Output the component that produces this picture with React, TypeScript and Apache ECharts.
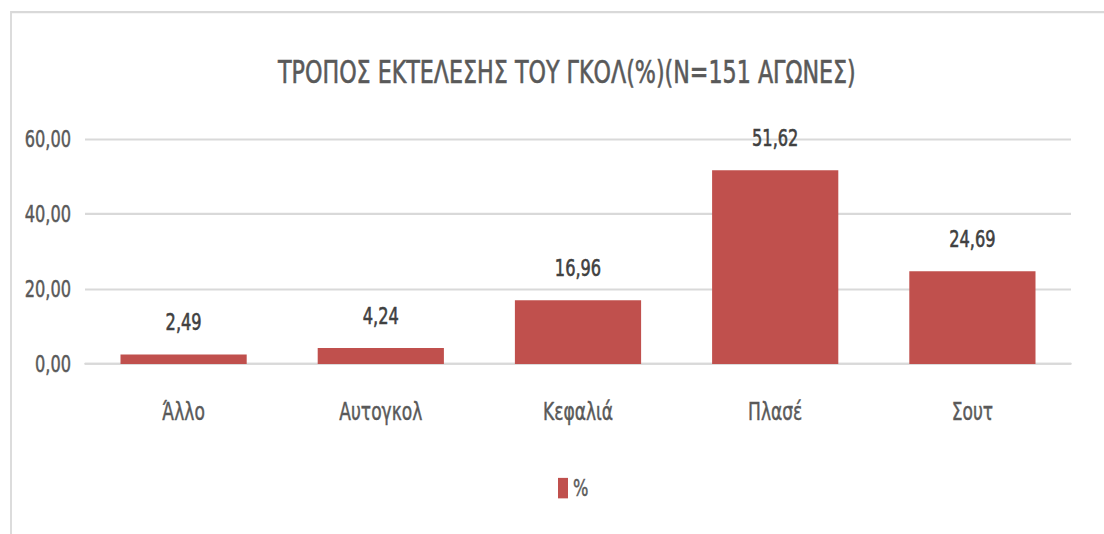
import React, { useEffect, useRef } from "react";
import * as echarts from "echarts";

const categories = ["Άλλο", "Αυτογκολ", "Κεφαλιά", "Πλασέ", "Σουτ"];
const values = [2.49, 4.24, 16.96, 51.62, 24.69];
const seriesName = "%";
const titleText = "ΤΡΟΠΟΣ ΕΚΤΕΛΕΣΗΣ ΤΟΥ ΓΚΟΛ(%)(N=151 ΑΓΩΝΕΣ)";

const FONT = "'Liberation Sans Narrow', 'DejaVu Sans Condensed', 'Open Sans', sans-serif";
const fmt = (v: number) => v.toFixed(2).replace(".", ",");

// The reference uses a tall, narrow lettering: the chart is drawn at a lower
// height and stretched vertically to the full 534px.
const W = 1104;
const H = 417;
const S = 534 / H;

const GREY = "#595959";
const DARK = "#404040";

export default function App() {
  const ref = useRef<HTMLDivElement>(null);
  useEffect(() => {
    if (!ref.current) return;
    const chart = echarts.init(ref.current, undefined, { renderer: "svg" });
    chart.setOption({
      animation: false,
      backgroundColor: "#ffffff",
      textStyle: { fontFamily: FONT },
      title: {
        text: titleText,
        left: 273,
        top: 39,
        textStyle: {
          fontFamily: FONT,
          fontSize: 24.7,
          fontWeight: "normal",
          color: GREY,
          textBorderColor: GREY,
          textBorderWidth: 0.45,
        },
      },
      graphic: [
        {
          type: "rect",
          shape: { x: 11, y: 9.4, width: 1100, height: 420 },
          style: { fill: "none", stroke: "#D9D9D9", lineWidth: 1.8 },
          silent: true,
        },
      ],
      legend: {
        data: [seriesName],
        left: 553,
        top: 367,
        itemWidth: 10,
        itemHeight: 16,
        itemGap: 6,
        icon: "rect",
        textStyle: {
          fontFamily: FONT,
          fontSize: 18,
          color: GREY,
          textBorderColor: GREY,
          textBorderWidth: 0.35,
        },
      },
      grid: { left: 85, right: 33, top: 108.5, bottom: 132.8, containLabel: false },
      xAxis: {
        type: "category",
        data: categories,
        axisLine: { show: true, lineStyle: { color: "#D9D9D9", width: 1.6 } },
        axisTick: { show: false },
        axisLabel: {
          fontFamily: FONT,
          fontSize: 19,
          color: GREY,
          margin: 28,
          textBorderColor: GREY,
          textBorderWidth: 0.35,
        },
      },
      yAxis: {
        type: "value",
        min: 0,
        max: 60,
        interval: 20,
        axisLine: { show: false },
        axisTick: { show: false },
        splitLine: { lineStyle: { color: "#D9D9D9", width: 1.6 } },
        axisLabel: {
          fontFamily: FONT,
          fontSize: 18,
          color: GREY,
          margin: 14,
          textBorderColor: GREY,
          textBorderWidth: 0.35,
          formatter: (v: number) => fmt(v),
        },
      },
      series: [
        {
          name: seriesName,
          type: "bar",
          data: values,
          barCategoryGap: "36%",
          itemStyle: { color: "#C0504D" },
          label: {
            show: true,
            position: "top",
            distance: 16,
            fontFamily: FONT,
            fontSize: 18,
            color: DARK,
            textBorderColor: DARK,
            textBorderWidth: 0.45,
            formatter: (p: any) => fmt(p.value),
          },
        },
      ],
    });
    return () => chart.dispose();
  }, []);
  return (
    <div
      ref={ref}
      style={{
        position: "fixed",
        left: 0,
        top: 0,
        width: W,
        height: H,
        transform: `scaleY(${S})`,
        transformOrigin: "0 0",
      }}
    />
  );
}
